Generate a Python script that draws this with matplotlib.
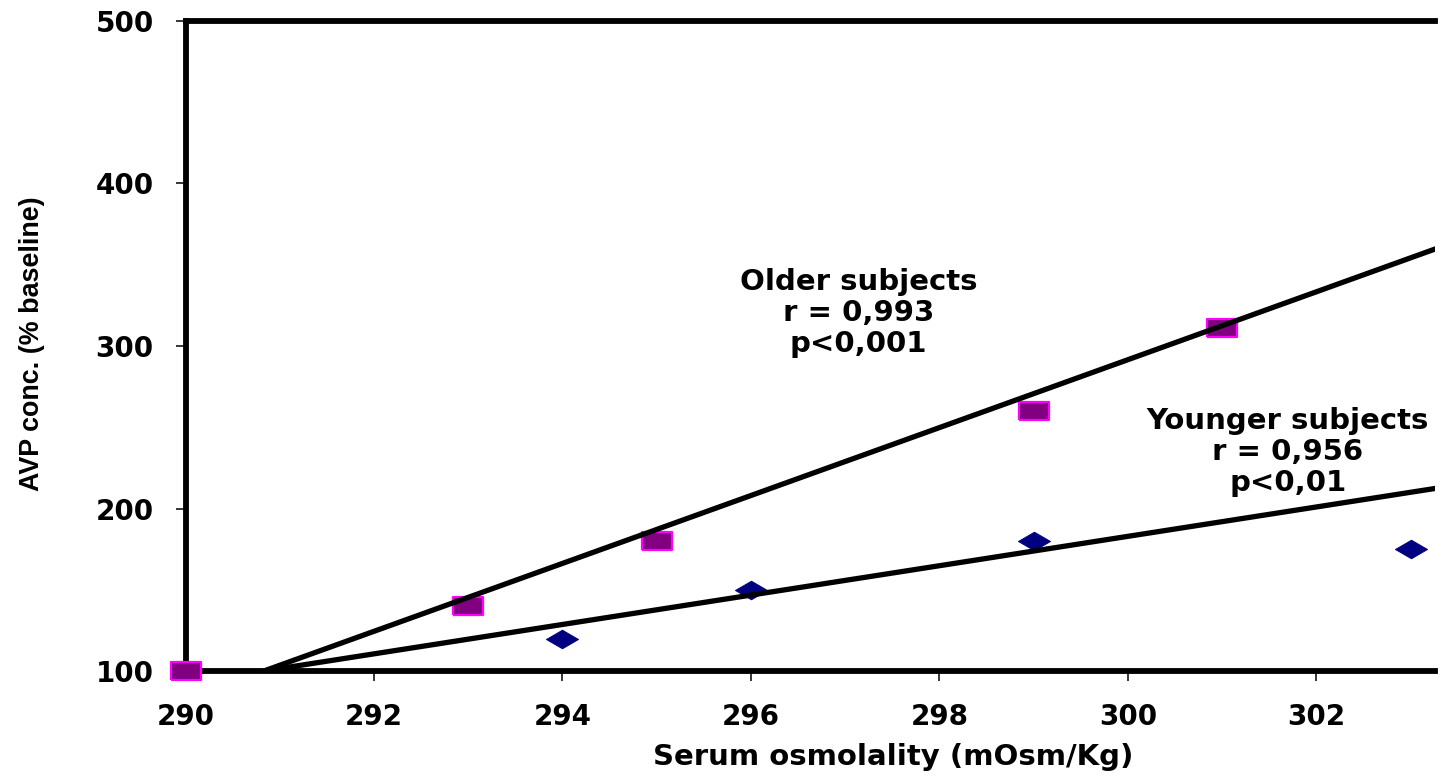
import matplotlib
matplotlib.use("Agg")
import matplotlib.pyplot as plt
import numpy as np

# ---- data ----
older_x = [290, 293, 295, 299, 301]
older_y = [100, 140, 180, 260, 311]
younger_x = [294, 296, 299, 303]
younger_y = [120, 150, 180, 175]

# fitted trend lines (end points)
older_fit_x = [290.83, 303.3]
older_fit_y = [100, 360.5]
younger_fit_x = [290.83, 303.3]
younger_fit_y = [100, 212.7]

x_ticks = [290, 292, 294, 296, 298, 300, 302]
y_ticks = [100, 200, 300, 400, 500]

older_text = "Older subjects\nr = 0,993\np<0,001"
younger_text = "Younger subjects\nr = 0,956\np<0,01"
x_label = "Serum osmolality (mOsm/Kg)"
y_label = "AVP conc. (% baseline)"

plt.rcParams['font.family'] = ['DejaVu Sans']
plt.rcParams['font.weight'] = 'bold'

fig = plt.figure(figsize=(14.45, 7.8), dpi=100)
ax = fig.add_axes([0.1284, 0.1397, 0.8647, 0.8334])

ax.set_xlim(290, 303.26)
ax.set_ylim(100, 500)

square = [(-1, -0.63), (1, -0.63), (1, 0.63), (-1, 0.63), (-1, -0.63)]
diamond = [(-1, 0), (0, 0.58), (1, 0), (0, -0.58), (-1, 0)]

ax.plot(older_x, older_y, linestyle='none', marker=square, markersize=21,
        markerfacecolor='#800080', markeredgecolor='#FF00FF', markeredgewidth=1.6,
        clip_on=False, zorder=2)
ax.plot(younger_x, younger_y, linestyle='none', marker=diamond, markersize=23,
        markerfacecolor='#000080', markeredgecolor='#000080', markeredgewidth=0.7,
        clip_on=False, zorder=2)

ax.plot(older_fit_x, older_fit_y, color='black', linewidth=3.8, zorder=3,
        solid_capstyle='butt')
ax.plot(younger_fit_x, younger_fit_y, color='black', linewidth=3.8, zorder=3,
        solid_capstyle='butt')

for s in ['left', 'top', 'bottom']:
    ax.spines[s].set_linewidth(4.2)
    ax.spines[s].set_color('black')
    ax.spines[s].set_zorder(1)
ax.spines['right'].set_visible(False)

ax.set_xticks(x_ticks)
ax.set_yticks(y_ticks)
ax.tick_params(axis='both', direction='out', length=7, width=1.1, color='black',
               labelsize=20, pad=16)
for lab in ax.get_xticklabels() + ax.get_yticklabels():
    lab.set_fontweight('bold')

ax.text(297.14, 320.3, older_text, ha='center', va='center', fontsize=21,
        fontweight='bold', linespacing=1.15)
ax.text(301.70, 234.8, younger_text, ha='center', va='center', fontsize=21,
        fontweight='bold', linespacing=1.15, clip_on=True)

ax.set_xlabel(x_label, fontsize=21, fontweight='bold', va='center')
ax.xaxis.set_label_coords(0.566, -0.132)
ax.set_ylabel(y_label, fontsize=19.4, fontweight='bold', va='center',
              family=['Liberation Sans', 'DejaVu Sans'])
ax.yaxis.set_label_coords(-0.123, 0.503)

fig.savefig("out.png", dpi=100)
